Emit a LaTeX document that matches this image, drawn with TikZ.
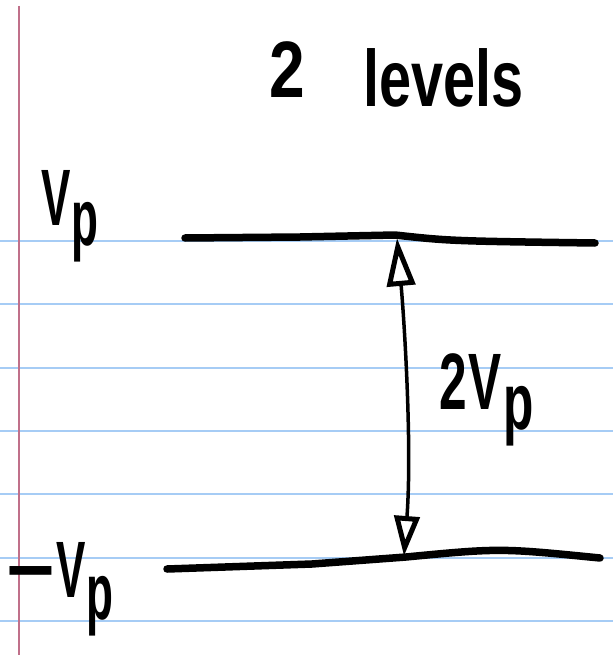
\documentclass[tikz,border=0pt]{standalone}
\usepackage{fontspec}
\setmainfont{Liberation Sans}
\usetikzlibrary{arrows.meta}
\definecolor{ruleblue}{RGB}{166,204,245}
\definecolor{marginred}{RGB}{192,112,138}
\tikzset{
  ruled/.style={draw=ruleblue, line width=2pt},
  margin/.style={draw=marginred, line width=2pt},
  level/.style={draw=black, line width=7.5pt, line cap=round, line join=round},
  hand/.style={inner sep=0pt, anchor=base west, font=\fontsize{80}{90}\selectfont\bfseries},
  span/.style={draw=black, line width=3.5pt, line cap=round,
    {Triangle[open, length=48pt, width=28pt, line width=5pt]}-{Triangle[open, length=40pt, width=25pt, line width=5pt]}}
}
\begin{document}
\begin{tikzpicture}[x=1pt, y=-1pt]
\useasboundingbox (0,0) rectangle (613,655);
\fill[white] (0,0) rectangle (613,655);
% ruled paper
\foreach \yy in {241,304,368,431,494,558,621}
  \draw[ruled] (0,\yy) -- (613,\yy);
\draw[margin] (19,6) -- (19,655);
% title
\node[hand, xscale=0.8] (two) at (269,98) {2};
\node[hand, xscale=0.72] (levels) at (363,107) {levels};
% levels
\coordinate (t1) at (185,238);
\coordinate (t2) at (395,235);
\coordinate (t3) at (595,243);
\draw[level] (t1) -- (300,237) -- (t2) .. controls (450,241) .. (t3);
\coordinate (b1) at (167,569);
\coordinate (b2) at (406,557);
\coordinate (b3) at (600,558);
\draw[level] (b1) -- (312,564) -- (b2) .. controls (500,548) .. (b3);
% labels
\node[hand, xscale=0.55] (vp) at (41,225) {V\kern0.02em\raisebox{-20pt}{p}};
\node[hand, xscale=0.55] (mvp) at (6,597) {\scalebox{1.9}[1]{−}\kern0.04em V\kern0.02em\raisebox{-22pt}{p}};
\node[hand, xscale=0.62] (twovp) at (439,409) {2\kern0.04em V\kern0.03em\raisebox{-20pt}{p}};
% arrow
\coordinate (atop) at (397,238);
\coordinate (abot) at (404,556);
\draw[span] (atop) .. controls (405,330) and (412,450) .. (abot);
\end{tikzpicture}
\end{document}
